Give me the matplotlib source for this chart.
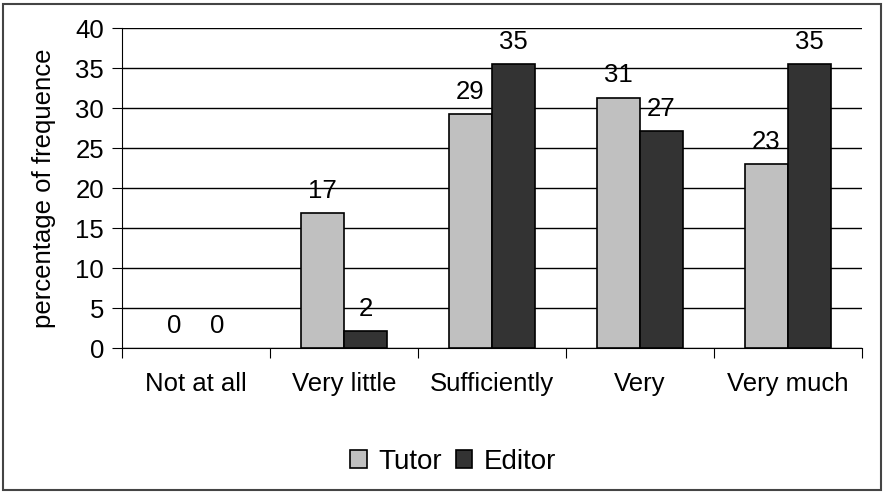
import matplotlib.pyplot as plt
import matplotlib.patches as mpatches
import numpy as np

plt.rcParams['font.family'] = ['Liberation Sans', 'DejaVu Sans']

categories = ['Not at all', 'Very little', 'Sufficiently', 'Very', 'Very much']
tutor = [0, 16.9, 29.2, 31.3, 23.0]
editor = [0, 2.1, 35.5, 27.1, 35.5]
tutor_labels = ['0', '17', '29', '31', '23']
editor_labels = ['0', '2', '35', '27', '35']

fs = 18.5
fig = plt.figure(figsize=(8.85, 4.92), dpi=100)
ax = fig.add_axes([122/885, 1 - 348/492, 740/885, 320/492])

x = np.arange(len(categories))
w = 0.29
b1 = ax.bar(x - w/2, tutor, w, color='#c0c0c0', edgecolor='black', linewidth=1.2, label='Tutor', zorder=3)
b2 = ax.bar(x + w/2, editor, w, color='#333333', edgecolor='black', linewidth=1.2, label='Editor', zorder=3)

for bars, labs in ((b1, tutor_labels), (b2, editor_labels)):
    for r, t in zip(bars, labs):
        if r.get_height() == 0:
            r.set_linewidth(0)
        ax.annotate(t, (r.get_x() + r.get_width()/2, r.get_height()),
                    xytext=(0, 11), textcoords='offset points',
                    ha='center', va='baseline', fontsize=fs, zorder=4)

ax.set_xlim(-0.5, len(categories) - 0.5)
ax.set_ylim(0, 40)
ax.set_yticks(range(0, 41, 5))
ax.yaxis.grid(True, color='black', linewidth=1, zorder=0)
ax.set_xticks(np.arange(-0.5, len(categories)), minor=False)
ax.set_xticklabels([])
ax.set_xticks(x, minor=True)
ax.set_xticklabels(categories, minor=True, fontsize=fs)
ax.tick_params(axis='x', which='minor', length=0, pad=17)
ax.tick_params(axis='x', which='major', length=7, direction='out', color='black')
ax.tick_params(axis='y', length=7, labelsize=fs, pad=6)
for s in ('top', 'right'):
    ax.spines[s].set_visible(False)
ax.spines['left'].set_color('black')
ax.spines['bottom'].set_color('black')
ax.set_ylabel('percentage of frequence', fontsize=fs)
ax.yaxis.set_label_coords(-0.089, 0.5)

h1 = mpatches.Patch(facecolor='#c0c0c0', edgecolor='black', linewidth=1.2, label='Tutor')
h2 = mpatches.Patch(facecolor='#333333', edgecolor='black', linewidth=1.2, label='Editor')
fig.legend(handles=[h1, h2], loc='center', bbox_to_anchor=(0.512, 1 - 462/492),
           ncol=2, frameon=False, fontsize=20, handlelength=0.6, handleheight=0.6,
           handletextpad=0.4, columnspacing=0.5)

fig.patches.append(mpatches.Rectangle((3/885, 2/492), 878/885, 486/492, transform=fig.transFigure,
                                      fill=False, edgecolor='#444444', linewidth=1.5))

fig.savefig('out.png', dpi=100)
